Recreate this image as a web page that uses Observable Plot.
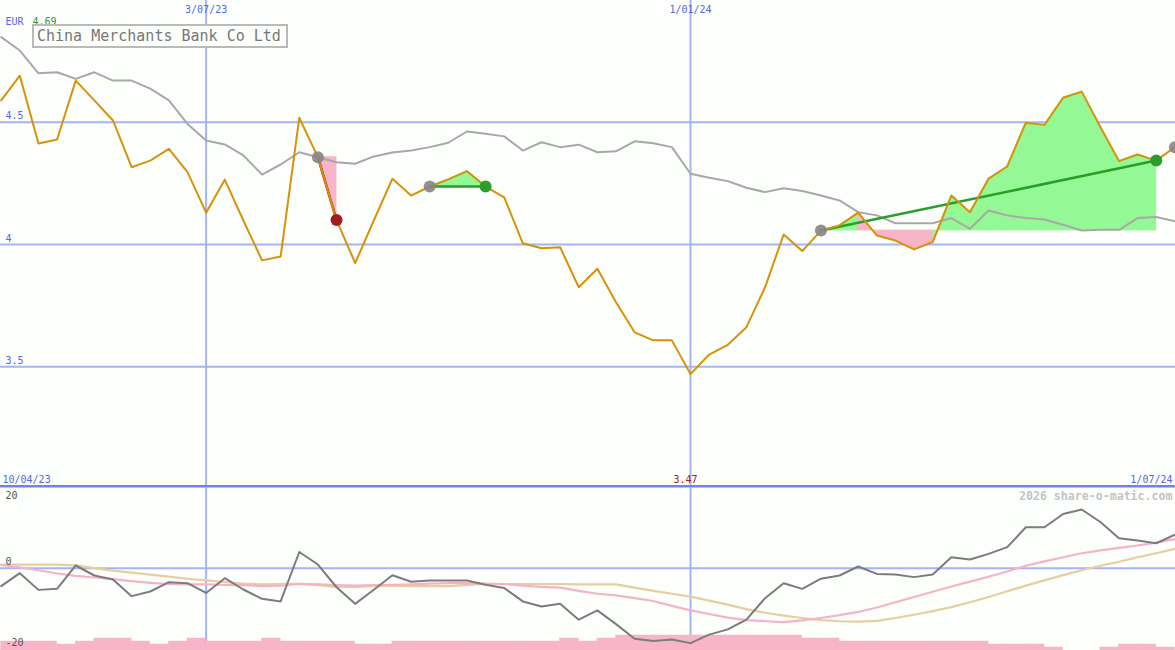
<!DOCTYPE html>
<html><head><meta charset="utf-8">
<script src="https://cdn.jsdelivr.net/npm/d3@7"></script>
<script src="https://cdn.jsdelivr.net/npm/@observablehq/plot@0.6"></script>
<style>
html,body{margin:0;padding:0;background:#fdfffd;}
#wrap{position:relative;width:1175px;height:650px;overflow:hidden;background:#fdfffd;}
#main,#lower{position:absolute;left:0;}
#main{top:0;}
#lower{top:487px;}
#title{position:absolute;left:32px;top:24px;width:249px;height:20px;padding-left:3px;border:2px solid #bababa;background:#fdfffd;color:#777;font:15px "DejaVu Sans Mono",monospace;line-height:20px;white-space:nowrap;}
</style></head>
<body>
<div id="wrap"><div id="main"></div><div id="lower"></div><div id="title"></div></div>
<script>
// ---- data ----
const titleText = "China Merchants Bank Co Ltd";
const currency = "EUR";
const watermark = "2026 share-o-matic.com";
const startDate = "2023-04-17"; // weekly closes
const rangeLabels = ["2023-04-10", "2024-07-01"];
const gridDates = ["2023-07-03", "2024-01-01"];
const priceTicks = [4.5, 4, 3.5];
const oscTicks = [20, 0, -20];

const price = [4.589, 4.690, 4.413, 4.429, 4.670, 4.589, 4.507, 4.316, 4.343, 4.391,
  4.296, 4.130, 4.265, 4.098, 3.935, 3.951, 4.518, 4.357, 4.100, 3.924,
  4.098, 4.269, 4.200, 4.237, 4.266, 4.300, 4.237, 4.193, 4.005, 3.985,
  3.989, 3.825, 3.901, 3.764, 3.641, 3.608, 3.608, 3.470, 3.550, 3.590,
  3.662, 3.825, 4.041, 3.973, 4.057, 4.078, 4.130, 4.037, 4.016, 3.980,
  4.010, 4.200, 4.132, 4.269, 4.319, 4.498, 4.489, 4.600, 4.625, 4.480,
  4.341, 4.368, 4.343, 4.398];
const avg = [4.848, 4.793, 4.700, 4.704, 4.677, 4.704, 4.670, 4.670, 4.637, 4.589,
  4.493, 4.425, 4.409, 4.364, 4.286, 4.327, 4.377, 4.357, 4.336, 4.330,
  4.360, 4.376, 4.384, 4.398, 4.416, 4.462, 4.453, 4.442, 4.384, 4.418,
  4.398, 4.408, 4.377, 4.381, 4.422, 4.414, 4.398, 4.289, 4.273, 4.259,
  4.232, 4.214, 4.230, 4.219, 4.200, 4.180, 4.132, 4.119, 4.087, 4.087,
  4.087, 4.108, 4.064, 4.139, 4.119, 4.108, 4.102, 4.081, 4.057, 4.060,
  4.060, 4.108, 4.112, 4.095];
const osc = [-4.44, -1.23, -5.35, -5.1, 0.67, -1.8, -2.8, -6.9, -5.75, -3.45,
  -3.7, -6.1, -2.47, -5.26, -7.56, -8.2, 4.0, 0.91, -4.7, -8.8,
  -5.3, -1.73, -3.36, -3.04, -3.04, -3.04, -4.1, -4.9, -8.2, -9.46,
  -8.8, -12.7, -10.4, -13.8, -17.4, -18.0, -17.6, -18.5, -16.4, -15.1,
  -12.7, -7.4, -3.7, -5.1, -2.6, -1.8, 0.42, -1.4, -1.56, -2.2,
  -1.56, 2.7, 2.15, 3.55, 5.2, 10.1, 10.1, 13.4, 14.5, 11.4,
  7.4, 6.84, 6.17, 8.3];
const oscFast = [0.8, 0.2, -0.5, -1.3, -1.9, -2.3, -2.7, -3.2, -3.6, -3.9,
  -4.0, -4.0, -4.1, -4.2, -4.4, -4.3, -3.9, -4.0, -4.2, -4.3,
  -4.2, -4.1, -4.0, -3.8, -3.7, -3.7, -3.8, -3.9, -4.3, -4.6,
  -4.8, -5.6, -6.3, -6.7, -7.4, -8.1, -9.3, -10.4, -11.3, -12.2,
  -12.8, -13.1, -13.3, -12.9, -12.3, -11.6, -10.8, -9.7, -8.4, -7.1,
  -5.8, -4.5, -3.3, -2.1, -0.8, 0.6, 1.7, 2.7, 3.7, 4.4,
  5.0, 5.6, 6.3, 7.2];
const oscSlow = [0.9, 0.9, 0.9, 0.9, 0.7, 0.0, -0.6, -1.1, -1.6, -2.1,
  -2.6, -3.0, -3.4, -3.8, -4.0, -3.9, -3.8, -4.2, -4.6, -4.6,
  -4.4, -4.3, -4.4, -4.4, -4.4, -4.1, -3.9, -3.9, -3.9, -3.9,
  -3.9, -4.0, -4.0, -4.0, -4.8, -5.6, -6.3, -7.0, -8.0, -9.0,
  -10.1, -11.0, -11.7, -12.3, -12.8, -13.1, -13.2, -13.0, -12.3, -11.5,
  -10.6, -9.6, -8.4, -7.1, -5.7, -4.3, -3.0, -1.7, -0.5, 0.6,
  1.6, 2.7, 3.7, 4.8];
const volume = [3, 3, 3, 2, 3, 4, 4, 3, 2, 3,
  4, 3, 3, 3, 4, 3, 3, 3, 3, 2,
  2, 3, 3, 3, 3, 3, 3, 3, 3, 3,
  4, 3, 4, 5, 5, 5, 5, 5, 5, 5,
  5, 5, 5, 4, 4, 3, 3, 3, 3, 3,
  3, 3, 3, 2, 2, 2, 1, 0, 0, 1,
  2, 2, 1];
// trades: week index of entry and exit
const tradeEntry = [17, 23, 44];
const tradeExit = [18, 26, 62];
const openEntry = [63];

// ---- derived ----
document.getElementById("title").textContent = titleText;
const parse = d3.utcParse("%Y-%m-%d");
const fmt = d3.utcFormat("%-d/%m/%y");
const t0 = parse(startDate);
const dates = price.map((_, i) => d3.utcDay.offset(t0, 7 * i));
const rows = price.map((p, i) => ({date: dates[i], price: p, avg: avg[i], osc: osc[i], fast: oscFast[i], slow: oscSlow[i]}));
const font = "DejaVu Sans Mono";
const grid = "#a4b4f4";
const blue = "#5566e8";
const green = "#94f894", pink = "#f8b4c8";
const xScale = {type: "utc", domain: [dates[0], dates[dates.length - 1]], range: [0.7, 1174.4], axis: null};

const trades = tradeEntry.map((e, k) => ({
  d1: dates[e], p1: price[e], d2: dates[tradeExit[k]], p2: price[tradeExit[k]],
  win: price[tradeExit[k]] >= price[e]
}));
const segs = [];
tradeEntry.forEach((e, k) => {
  const lvl = price[e];
  for (let i = e; i < tradeExit[k]; i++) {
    const up = price[i + 1] >= lvl;
    const id = k * 1000 + i;
    segs.push({seg: id, date: dates[i], lo: lvl, hi: price[i], up});
    segs.push({seg: id, date: dates[i + 1], lo: lvl, hi: price[i + 1], up});
  }
});
const entries = tradeEntry.concat(openEntry).map(i => rows[i]);
const maxP = d3.max(price), minRow = rows[d3.minIndex(price)];

const txt = {fontFamily: font, fontSize: 10, lineAnchor: "middle"};

const main = Plot.plot({
  width: 1175, height: 487, margin: 0,
  x: xScale,
  y: {domain: [3.0065, 4.9975], range: [487, 0], axis: null},
  color: {type: "identity"},
  style: {background: "transparent", overflow: "visible"},
  marks: [
    Plot.ruleY(priceTicks, {stroke: grid, strokeWidth: 2}),
    Plot.ruleX(gridDates.map(parse), {stroke: grid, strokeWidth: 2}),
    Plot.frame({anchor: "bottom", stroke: "#7282ea", strokeWidth: 2.5, insetBottom: 1.2}),
    Plot.areaY(segs.filter(d => d.up), {x: "date", y1: "lo", y2: "hi", z: "seg", fill: green, stroke: green, strokeWidth: 0.8}),
    Plot.areaY(segs.filter(d => !d.up), {x: "date", y1: "lo", y2: "hi", z: "seg", fill: pink, stroke: pink, strokeWidth: 0.8}),
    Plot.line(rows, {x: "date", y: "avg", stroke: "#a8a8a8", strokeWidth: 2}),
    Plot.link(trades, {x1: "d1", y1: "p1", x2: "d2", y2: "p2", stroke: d => d.win ? "#2a9e2a" : "#a51c1c", strokeWidth: 2.5}),
    Plot.line(rows, {x: "date", y: "price", stroke: "#d8920a", strokeWidth: 2}),
    Plot.dot(entries, {x: "date", y: "price", r: 6, fill: "#858585", fillOpacity: 0.9}),
    Plot.dot(trades, {x: "d2", y: "p2", r: 6, fill: d => d.win ? "#2a9e2a" : "#a51c1c"}),
    Plot.text(priceTicks, {...txt, y: d => d, frameAnchor: "left", textAnchor: "start", dx: 5, dy: -6, text: d => String(d), fill: blue}),
    Plot.text(gridDates, {...txt, x: d => parse(d), frameAnchor: "top", dy: 9, text: d => fmt(parse(d)), fill: blue}),
    Plot.text([rangeLabels[0]], {...txt, frameAnchor: "bottom-left", textAnchor: "start", dx: 2, dy: -8, text: d => fmt(parse(d)), fill: blue}),
    Plot.text([rangeLabels[1]], {...txt, frameAnchor: "bottom-right", textAnchor: "end", dx: -3, dy: -8, text: d => fmt(parse(d)), fill: blue}),
    Plot.text([minRow], {...txt, x: "date", frameAnchor: "bottom", dx: -5, dy: -8, text: d => d.price.toFixed(2), fill: "#a01818"}),
    Plot.text([currency], {...txt, frameAnchor: "top-left", textAnchor: "start", dx: 5, dy: 21, text: d => d, fill: blue}),
    Plot.text([maxP], {...txt, frameAnchor: "top-left", textAnchor: "start", dx: 32, dy: 21, text: d => d.toFixed(2), fill: "#2a9a2a"})
  ]
});
document.getElementById("main").append(main);

const oscDomain = [-20.32, 19.93];
const volUnit = 0.74;
const bars = volume.map((v, i) => ({x1: dates[i], x2: dates[i + 1], v}));
const lower = Plot.plot({
  width: 1175, height: 163, margin: 0,
  x: xScale,
  y: {domain: oscDomain, range: [163, 0], axis: null},
  style: {background: "transparent", overflow: "visible"},
  marks: [
    Plot.ruleY([0], {stroke: grid, strokeWidth: 2}),
    Plot.ruleX(gridDates.map(parse), {stroke: grid, strokeWidth: 2}),
    Plot.rectY(bars, {x1: "x1", x2: "x2", y1: oscDomain[0], y2: d => oscDomain[0] + d.v * volUnit, fill: pink, stroke: pink, strokeWidth: 0.5}),
    Plot.line(rows, {x: "date", y: "slow", stroke: "#e6cf9e", strokeWidth: 2.2}),
    Plot.line(rows, {x: "date", y: "fast", stroke: "#f8b2c8", strokeWidth: 2.2}),
    Plot.line(rows, {x: "date", y: "osc", stroke: "#7c7c7c", strokeWidth: 2}),
    Plot.text(oscTicks.filter(d => d === d3.max(oscTicks)), {...txt, y: d => d, frameAnchor: "left", textAnchor: "start", dx: 5, dy: 8.5, text: d => String(d), fill: "#555"}),
    Plot.text(oscTicks.filter(d => d !== d3.max(oscTicks)), {...txt, y: d => d, frameAnchor: "left", textAnchor: "start", dx: 5, dy: -6, text: d => String(d), fill: "#555"}),
    Plot.text([watermark], {...txt, fontSize: 11.6, fontWeight: "bold", frameAnchor: "top-right", textAnchor: "end", dx: -3, dy: 9, text: d => d, fill: "#c4c4c4"})
  ]
});
document.getElementById("lower").append(lower);
</script>
</body></html>
